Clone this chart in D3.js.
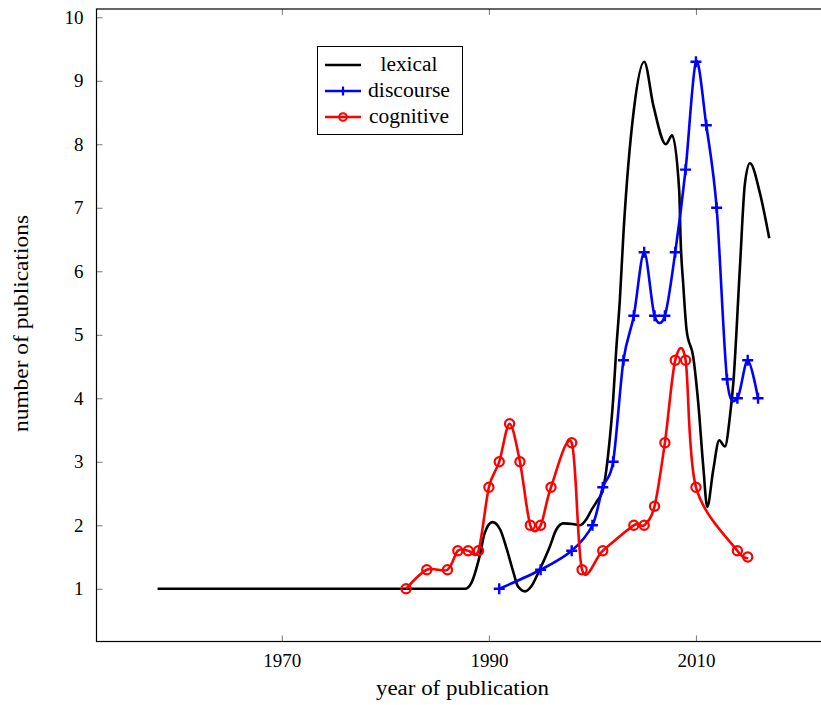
<!DOCTYPE html>
<html>
<head>
<meta charset="utf-8">
<script src="https://cdn.jsdelivr.net/npm/d3@7"></script>
<style>
  html, body { margin: 0; padding: 0; background: #fff; }
  svg { display: block; }
  text { font-family: "Liberation Serif", "DejaVu Serif", serif; fill: #000; }
</style>
</head>
<body>
<svg id="chart" width="821" height="705"></svg>
<script>
// ---- data ----
const lexicalYears = [1958, 1987.7, 1988.3, 1989.1, 1989.6, 1990.35, 1991.1, 1991.7, 1992.35, 1992.8, 1993.5, 1994.1, 1994.9, 1995.9, 1996.5, 1997.2, 1998.1, 1998.8, 1999.4, 1999.9, 2000.4, 2001.0, 2001.7, 2002.0, 2002.3, 2002.65, 2003.0, 2004.0, 2005.0, 2005.9, 2007.1, 2007.7, 2008.38, 2008.52, 2008.77, 2009.1, 2009.74, 2010.22, 2010.71, 2011.09, 2011.67, 2012.25, 2012.8, 2013.28, 2013.61, 2014.25, 2014.73, 2015.22, 2016.18, 2017.08];
const lexicalValues = [1, 1, 1.09, 1.51, 1.88, 2.05, 1.93, 1.64, 1.27, 1.04, 0.96, 1.04, 1.3, 1.67, 1.93, 2.03, 2.02, 2.0, 2.09, 2.24, 2.37, 2.55, 3.4, 3.97, 4.76, 5.55, 6.6, 8.54, 9.3, 8.6, 8.0, 8.14, 7.28, 6.49, 5.8, 5.07, 4.65, 3.93, 2.92, 2.29, 2.87, 3.34, 3.24, 3.71, 4.24, 6.07, 7.38, 7.7, 7.23, 6.52];

const discourseYears = [1991, 1995, 1998, 2000, 2001, 2002, 2003, 2004, 2005, 2006, 2007, 2008, 2009, 2010, 2011, 2012, 2013, 2014, 2015, 2016];
const discourseValues = [1.0, 1.3, 1.6, 2.0, 2.6, 3.0, 4.6, 5.3, 6.3, 5.3, 5.3, 6.3, 7.6, 9.3, 8.3, 7.0, 4.3, 4.0, 4.6, 4.0];

const cognitiveYears = [1982, 1984, 1986, 1987, 1988, 1989, 1990, 1991, 1992, 1993, 1994, 1995, 1996, 1998, 1999, 2001, 2004, 2005, 2006, 2007, 2008, 2009, 2010, 2014, 2015];
const cognitiveValues = [1.0, 1.3, 1.3, 1.6, 1.6, 1.6, 2.6, 3.0, 3.6, 3.0, 2.0, 2.0, 2.6, 3.3, 1.3, 1.6, 2.0, 2.0, 2.3, 3.3, 4.6, 4.6, 2.6, 1.6, 1.5];

const xTicks = [1970, 1990, 2010];
const yTicks = [1, 2, 3, 4, 5, 6, 7, 8, 9, 10];
const seriesNames = ["lexical", "discourse", "cognitive"];
const seriesColors = ["#000000", "#0000ff", "#ff0000"];
const xLabel = "year of publication";
const yLabel = "number of publications";

// ---- layout ----
const svg = d3.select("#chart");
const pL = 96.5, pR = 829.5, pT = 9, pB = 641.5;

const x = d3.scaleLinear().domain([1952.1, 2022.9]).range([pL, pR]);
const y = d3.scaleLinear().domain([0.17, 10.13]).range([pB, pT]);

// axes with inward ticks
const tickStyle = g => {
  g.select(".domain").remove();
  g.selectAll(".tick line").attr("stroke", "#555").attr("stroke-width", 0.8);
  g.selectAll(".tick text").style("font-size", "19px").attr("fill", "#000");
};

svg.append("g")
  .attr("transform", `translate(0,${pB})`)
  .call(d3.axisBottom(x).tickValues(xTicks).tickFormat(d3.format("d")).tickSizeInner(-6).tickPadding(12))
  .call(tickStyle);

svg.append("g")
  .attr("transform", `translate(0,${pT})`)
  .call(d3.axisTop(x).tickValues(xTicks).tickFormat("").tickSizeInner(-6))
  .call(tickStyle);

svg.append("g")
  .attr("transform", `translate(${pL},0)`)
  .call(d3.axisLeft(y).tickValues(yTicks).tickFormat(d3.format("d")).tickSizeInner(-6).tickPadding(13))
  .call(tickStyle);

svg.append("g")
  .attr("transform", `translate(${pR},0)`)
  .call(d3.axisRight(y).tickValues(yTicks).tickFormat("").tickSizeInner(-6))
  .call(tickStyle);

// frame
svg.append("rect")
  .attr("x", pL).attr("y", pT)
  .attr("width", pR - pL).attr("height", pB - pT)
  .attr("fill", "none").attr("stroke", "#000").attr("stroke-width", 1.2);

// axis labels
svg.append("text")
  .attr("x", 462.5).attr("y", 695)
  .attr("text-anchor", "middle").style("font-size", "20px")
  .attr("textLength", 173).attr("lengthAdjust", "spacingAndGlyphs")
  .text(xLabel);

svg.append("text")
  .attr("transform", `translate(28,323.5) rotate(-90)`)
  .attr("text-anchor", "middle").style("font-size", "20px")
  .attr("textLength", 217).attr("lengthAdjust", "spacingAndGlyphs")
  .text(yLabel);

// series
svg.append("defs").append("clipPath").attr("id", "plotclip")
  .append("rect").attr("x", pL).attr("y", pT).attr("width", pR - pL).attr("height", pB - pT);
const plot = svg.append("g").attr("clip-path", "url(#plotclip)");

const zip = (xs, ys) => xs.map((d, i) => [d, ys[i]]);
const lexical = zip(lexicalYears, lexicalValues);
const discourse = zip(discourseYears, discourseValues);
const cognitive = zip(cognitiveYears, cognitiveValues);

const smoothLine = d3.line().x(d => x(d[0])).y(d => y(d[1])).curve(d3.curveCardinal.tension(0.08));
const monoLine = d3.line().x(d => x(d[0])).y(d => y(d[1])).curve(d3.curveMonotoneX);

plot.append("path").datum(lexical)
  .attr("d", monoLine).attr("fill", "none")
  .attr("stroke", seriesColors[0]).attr("stroke-width", 2.6).attr("stroke-linejoin", "round");

plot.append("path").datum(discourse)
  .attr("d", smoothLine).attr("fill", "none")
  .attr("stroke", seriesColors[1]).attr("stroke-width", 2.6).attr("stroke-linejoin", "round");

plot.append("path").datum(cognitive)
  .attr("d", smoothLine).attr("fill", "none")
  .attr("stroke", seriesColors[2]).attr("stroke-width", 2.6).attr("stroke-linejoin", "round");

// markers
const plusPath = s => `M${-s},0H${s}M0,${-s}V${s}`;
plot.selectAll(".plus").data(discourse).join("path")
  .attr("class", "plus")
  .attr("transform", d => `translate(${x(d[0])},${y(d[1])})`)
  .attr("d", plusPath(5.5))
  .attr("stroke", seriesColors[1]).attr("stroke-width", 2.4).attr("fill", "none");

plot.selectAll(".circ").data(cognitive).join("circle")
  .attr("class", "circ")
  .attr("cx", d => x(d[0])).attr("cy", d => y(d[1])).attr("r", 4.6)
  .attr("stroke", seriesColors[2]).attr("stroke-width", 2.2).attr("fill", "none");

// legend
const lg = svg.append("g");
lg.append("rect").attr("x", 317.5).attr("y", 46.5).attr("width", 145).attr("height", 88)
  .attr("fill", "#fff").attr("stroke", "#000").attr("stroke-width", 1);
const rowY = [65, 91, 117];
const legendWidths = [57, 82, 80];
seriesNames.forEach((name, i) => {
  const ry = rowY[i];
  lg.append("line").attr("x1", 325).attr("x2", 361).attr("y1", ry).attr("y2", ry)
    .attr("stroke", seriesColors[i]).attr("stroke-width", 2.6);
  if (i === 1) {
    lg.append("path").attr("transform", `translate(343,${ry})`).attr("d", plusPath(4.5))
      .attr("stroke", seriesColors[1]).attr("stroke-width", 2.2);
  }
  if (i === 2) {
    lg.append("circle").attr("cx", 343).attr("cy", ry).attr("r", 3.8)
      .attr("stroke", seriesColors[2]).attr("stroke-width", 2).attr("fill", "none");
  }
  lg.append("text").attr("x", 409).attr("y", ry + 6)
    .attr("text-anchor", "middle").style("font-size", "20px")
    .attr("textLength", legendWidths[i]).attr("lengthAdjust", "spacingAndGlyphs")
    .text(name);
});
</script>
</body>
</html>
